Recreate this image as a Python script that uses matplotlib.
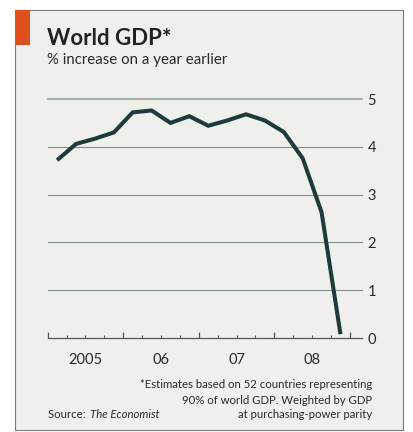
import matplotlib
matplotlib.use("Agg")
import matplotlib.pyplot as plt
from matplotlib.patches import Rectangle
import numpy as np

# quarterly world GDP growth, % on a year earlier
quarters = ["2005Q1", "2005Q2", "2005Q3", "2005Q4",
            "2006Q1", "2006Q2", "2006Q3", "2006Q4",
            "2007Q1", "2007Q2", "2007Q3", "2007Q4",
            "2008Q1", "2008Q2", "2008Q3", "2008Q4"]
growth = [3.72, 4.06, 4.17, 4.30,
          4.72, 4.76, 4.50, 4.64,
          4.44, 4.55, 4.68, 4.55,
          4.31, 3.76, 2.63, 0.08]
year_labels = ["2005", "06", "07", "08"]
y_ticks = [0, 1, 2, 3, 4, 5]
note_lines = ["*Estimates based on 52 countries representing",
              "90% of world GDP. Weighted by GDP",
              "at purchasing-power parity"]

plt.rcParams["font.family"] = ["Lato", "DejaVu Sans"]

bg = "#efefeb"
line_col = "#1d3a3c"
grid_col = "#828f8b"
text_col = "#2a2a2a"

fig = plt.figure(figsize=(4.13, 4.32), dpi=100)
fig.patch.set_facecolor("white")

# outer panel and red tab, kept behind the axes
fig.patches.append(Rectangle((15 / 413, 1 - 430 / 432), 388 / 413, 420 / 432,
                             transform=fig.transFigure, facecolor=bg,
                             edgecolor="#7a7a78", linewidth=0.8, zorder=-2))
fig.patches.append(Rectangle((15 / 413, 1 - 45 / 432), 15 / 413, 35 / 432,
                             transform=fig.transFigure, facecolor="#e0501e",
                             edgecolor="none", zorder=-1))

ax = fig.add_axes([47.7 / 413, 1 - 338 / 432, (362 - 47.7) / 413, (338 - 99) / 432])
ax.set_facecolor("none")
ax.set_zorder(2)

x = np.array([int(q[:4]) + (int(q[-1]) - 0.5) / 4 for q in quarters])

for v in y_ticks[1:]:
    ax.axhline(v, color="#8a9a96" if v == 5 else grid_col,
               lw=1.1 if v == 5 else 0.8, clip_on=False, zorder=1)
ax.plot(x, growth, color=line_col, lw=2.9, solid_joinstyle="miter",
        solid_capstyle="butt", zorder=3, clip_on=False)

ax.set_xlim(2005, 2009.16)
ax.set_ylim(0, 5)
for s in ["top", "left", "right"]:
    ax.spines[s].set_visible(False)
ax.spines["bottom"].set_color("#555555")
ax.spines["bottom"].set_linewidth(0.9)

ax.set_xticks(np.arange(2005, 2010))
ax.set_xticks(np.arange(2005, 2009.01, 0.25), minor=True)
ax.tick_params(axis="x", which="major", direction="in", length=4.5, width=0.9,
               color="#555555", labelbottom=False)
ax.tick_params(axis="x", which="minor", direction="in", length=2.2, width=0.8,
               color="#555555")

ax.yaxis.tick_right()
ax.set_yticks(y_ticks)
ax.set_yticklabels([str(v) for v in y_ticks])
ax.tick_params(axis="y", length=0, pad=4, labelsize=10.5, labelcolor=text_col)

for i, lab in enumerate(year_labels):
    ax.text(2005.5 + i, -0.46, lab, ha="center", va="center", fontsize=10.5,
            color=text_col)

fig.text(47 / 413, 1 - 45 / 432, "World GDP*", fontsize=16, fontweight="bold",
         color="#222222", ha="left", va="baseline")
fig.text(47 / 413, 1 - 64 / 432, "% increase on a year earlier", fontsize=10.8,
         color=text_col, ha="left", va="baseline")

for i, line in enumerate(note_lines):
    fig.text(372 / 413, 1 - (385 + 15 * i) / 432, line, fontsize=8.2,
             color=text_col, ha="right", va="center")
src = fig.text(48 / 413, 1 - 415 / 432, "Source: ", fontsize=8.2, color=text_col,
               ha="left", va="center")
renderer = fig.canvas.get_renderer()
bb = src.get_window_extent(renderer)
fig.text(bb.x1 / fig.bbox.width + 2 / 413, 1 - 415 / 432, "The Economist",
         fontsize=8.2, color=text_col, ha="left", va="center", style="italic")

fig.savefig("out.png", dpi=100, facecolor=fig.get_facecolor())
